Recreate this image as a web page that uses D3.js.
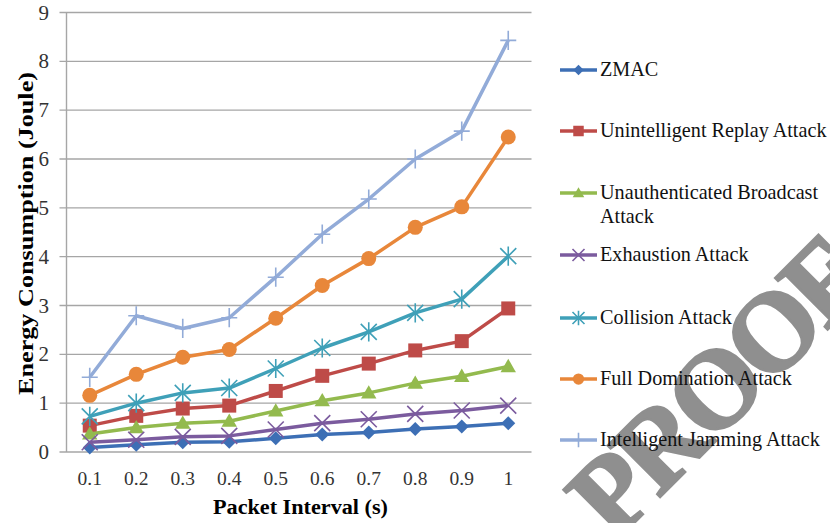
<!DOCTYPE html>
<html><head><meta charset="utf-8">
<script src="https://cdn.jsdelivr.net/npm/d3@7/dist/d3.min.js"></script>
<style>body{margin:0;background:#fff}svg{display:block}
text{font-family:"Liberation Serif","Tinos","Times New Roman","DejaVu Serif","Noto Serif",serif}</style>
</head><body>
<svg id="c" width="830" height="523"></svg>
<script>
const categories = ["0.1","0.2","0.3","0.4","0.5","0.6","0.7","0.8","0.9","1"];
const yTicks = [0,1,2,3,4,5,6,7,8,9];
const seriesNames = ["ZMAC","Unintelligent Replay Attack","Unauthenticated Broadcast Attack","Exhaustion Attack","Collision Attack","Full Domination Attack","Intelligent Jamming Attack"];
const zmac        = [0.09,0.15,0.20,0.21,0.28,0.36,0.40,0.47,0.52,0.59];
const replay      = [0.54,0.74,0.89,0.95,1.25,1.56,1.81,2.08,2.27,2.94];
const broadcast   = [0.37,0.50,0.59,0.63,0.84,1.05,1.21,1.41,1.55,1.75];
const exhaustion  = [0.20,0.25,0.31,0.33,0.46,0.59,0.67,0.78,0.85,0.95];
const collision   = [0.73,1.00,1.21,1.31,1.71,2.13,2.46,2.85,3.13,4.01];
const domination  = [1.16,1.59,1.94,2.10,2.74,3.41,3.96,4.60,5.02,6.45];
const jamming     = [1.53,2.79,2.53,2.75,3.58,4.46,5.18,6.00,6.57,8.43];
const seriesValues = [zmac,replay,broadcast,exhaustion,collision,domination,jamming];
const colors = ["#3D6FB5","#BE4B48","#93BA4E","#7B5B9E","#3FA0B8","#E8873A","#92ABD8"];
const markers = ["diamond","square","triangle","x","asterisk","circle","plus"];

const svg = d3.select("#c");
const m = {l:66.5, r:531.5, t:12.5, b:452};
const x = d3.scaleBand().domain(categories).range([m.l,m.r]);
const y = d3.scaleLinear().domain([0,9]).range([m.b,m.t]);

// watermark
svg.append("text").attr("transform","translate(614,543) rotate(-45)")
  .attr("font-weight","bold").attr("font-size",112).attr("letter-spacing",-6)
  .attr("fill","#8f8f8f").attr("stroke","#8f8f8f").attr("stroke-width",2.5)
  .text("PROOF");

// grid
svg.append("g").selectAll("line").data(yTicks).join("line")
  .attr("x1",m.l-7).attr("x2",m.r).attr("y1",d=>y(d)).attr("y2",d=>y(d))
  .attr("stroke","#a6a6a6").attr("stroke-width",1.4);
svg.append("line").attr("x1",m.l).attr("x2",m.l).attr("y1",m.t).attr("y2",m.b)
  .attr("stroke","#a6a6a6").attr("stroke-width",1.4);

// y tick labels
svg.append("g").selectAll("text").data(yTicks).join("text")
  .attr("x",49).attr("y",d=>y(d)+7).attr("text-anchor","end")
  .attr("font-size",21).attr("fill","#333").text(d=>d);
// x tick labels
svg.append("g").selectAll("text").data(categories).join("text")
  .attr("x",d=>x(d)+x.bandwidth()/2).attr("y",485).attr("text-anchor","middle")
  .attr("font-size",19.5).attr("fill","#333")
  .text(d=>d);

svg.append("text").attr("x",213).attr("y",514)
  .attr("font-weight","bold").attr("font-size",20).attr("fill","#000")
  .attr("textLength",175).attr("lengthAdjust","spacingAndGlyphs")
  .text("Packet Interval (s)");
svg.append("text").attr("transform","translate(33,395) rotate(-90)")
  .attr("font-weight","bold").attr("font-size",20).attr("fill","#000")
  .attr("textLength",323).attr("lengthAdjust","spacingAndGlyphs")
  .text("Energy Consumption (Joule)");

function drawMarker(g, type, color, s){
  switch(type){
    case "diamond": g.append("path").attr("d",`M0,${-s}L${s},0L0,${s}L${-s},0Z`).attr("fill",color); break;
    case "square": g.append("rect").attr("x",-s).attr("y",-s).attr("width",2*s).attr("height",2*s).attr("fill",color); break;
    case "triangle": g.append("path").attr("d",`M0,${-s*1.1}L${s*1.1},${s*0.8}L${-s*1.1},${s*0.8}Z`).attr("fill",color); break;
    case "circle": g.append("circle").attr("r",s).attr("fill",color); break;
    case "x": g.append("path").attr("d",`M${-s},${-s}L${s},${s}M${-s},${s}L${s},${-s}`).attr("stroke",color).attr("stroke-width",1.6).attr("fill","none"); break;
    case "asterisk": g.append("path").attr("d",`M${-s},${-s}L${s},${s}M${-s},${s}L${s},${-s}M0,${-s*1.2}L0,${s*1.2}`).attr("stroke",color).attr("stroke-width",1.6).attr("fill","none"); break;
    case "plus": g.append("path").attr("d",`M${-s},0L${s},0M0,${-s*1.2}L0,${s*1.2}`).attr("stroke",color).attr("stroke-width",1.6).attr("fill","none"); break;
  }
}
const msize = {diamond:7,square:7,triangle:7,circle:7.5,x:8,asterisk:8,plus:8};

const line = d3.line().x((d,i)=>x(categories[i])+x.bandwidth()/2).y(d=>y(d));
seriesValues.forEach((vals,si)=>{
  svg.append("path").datum(vals).attr("d",line).attr("fill","none")
    .attr("stroke",colors[si]).attr("stroke-width",3.5).attr("stroke-linejoin","round");
  vals.forEach((v,i)=>{
    const g = svg.append("g").attr("transform",`translate(${x(categories[i])+x.bandwidth()/2},${y(v)})`);
    drawMarker(g, markers[si], colors[si], msize[markers[si]]);
  });
});

// legend
const legendY = [70,131,193,255,318,379,440];
seriesNames.forEach((name,si)=>{
  const ly = legendY[si];
  svg.append("line").attr("x1",560).attr("x2",597).attr("y1",ly).attr("y2",ly)
    .attr("stroke",colors[si]).attr("stroke-width",3.5);
  const g = svg.append("g").attr("transform",`translate(578.5,${ly})`);
  drawMarker(g, markers[si], colors[si], msize[markers[si]]*0.75);
  const t = svg.append("text").attr("x",600).attr("y",ly+6)
    .attr("font-size",20.2).attr("fill","#111");
  if(si===2){
    t.append("tspan").attr("x",600).text("Unauthenticated Broadcast");
    t.append("tspan").attr("x",600).attr("dy",24).text("Attack");
  } else t.text(name);
});
</script>
</body></html>
